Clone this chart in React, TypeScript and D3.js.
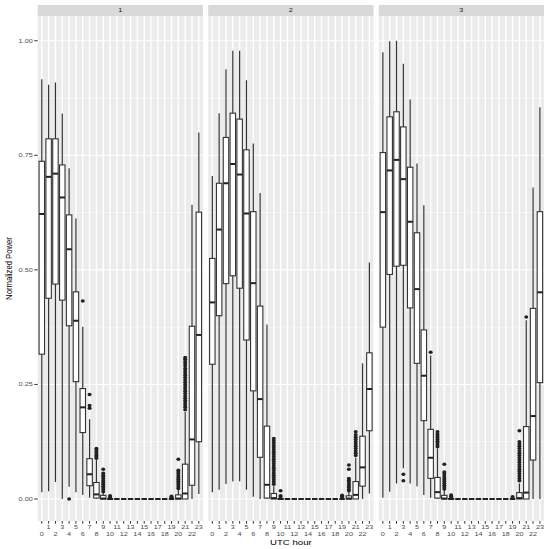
import React from 'react';
import * as d3 from 'd3';

// UTC hours on the x axis
const hours = [0, 1, 2, 3, 4, 5, 6, 7, 8, 9, 10, 11, 12, 13, 14, 15, 16, 17, 18, 19, 20, 21, 22, 23];
const facetLabels = ['1', '2', '3'];
const yTicks = [0, 0.25, 0.5, 0.75, 1];
const yMinor = [0.125, 0.375, 0.625, 0.875];

// box stats per hour: [lower whisker, q1, median, q3, upper whisker]
const stats1 = [
  [0.015, 0.316, 0.622, 0.737, 0.916],
  [0.017, 0.438, 0.703, 0.786, 0.904],
  [0.037, 0.469, 0.71, 0.786, 0.909],
  [0.0, 0.434, 0.658, 0.729, 0.841],
  [0.027, 0.378, 0.545, 0.62, 0.722],
  [0.015, 0.256, 0.389, 0.452, 0.612],
  [0.009, 0.145, 0.2, 0.241, 0.376],
  [0.003, 0.029, 0.054, 0.088, 0.174],
  [0.0, 0.002, 0.01, 0.036, 0.085],
  [0.0, 0.0, 0.001, 0.008, 0.02],
  [0, 0, 0, 0.001, 0.002],
  [0, 0, 0, 0, 0],
  [0, 0, 0, 0, 0],
  [0, 0, 0, 0, 0],
  [0, 0, 0, 0, 0],
  [0, 0, 0, 0, 0],
  [0, 0, 0, 0, 0],
  [0, 0, 0, 0, 0],
  [0, 0, 0, 0, 0],
  [0, 0, 0, 0, 0.001],
  [0.0, 0.0, 0.001, 0.009, 0.02],
  [0.0, 0.0, 0.012, 0.076, 0.19],
  [0.0, 0.03, 0.13, 0.377, 0.642],
  [0.011, 0.125, 0.358, 0.626, 0.8],
];
const outliers1 = [
  [], [], [], [], [0.0], [], [0.432], [0.198, 0.204, 0.228],
  [0.089, 0.092, 0.095, 0.099, 0.103, 0.107, 0.11],
  [0.016, 0.02, 0.024, 0.028, 0.032, 0.036, 0.04, 0.044, 0.048, 0.052, 0.056, 0.065],
  [0.003, 0.005, 0.007],
  [], [], [], [], [], [], [], [],
  [0.002, 0.004, 0.006],
  [0.023, 0.027, 0.031, 0.035, 0.039, 0.043, 0.047, 0.051, 0.055, 0.059, 0.063, 0.087],
  [0.195, 0.2, 0.205, 0.21, 0.215, 0.22, 0.225, 0.23, 0.235, 0.24, 0.245, 0.25, 0.255, 0.26, 0.265, 0.27, 0.275, 0.28, 0.285, 0.29, 0.295, 0.3, 0.305, 0.309],
  [], [],
];

const stats2 = [
  [0.015, 0.294, 0.429, 0.525, 0.705],
  [0.02, 0.4, 0.588, 0.689, 0.842],
  [0.033, 0.47, 0.689, 0.789, 0.938],
  [0.038, 0.487, 0.731, 0.842, 0.978],
  [0.039, 0.46, 0.708, 0.829, 0.978],
  [0.02, 0.347, 0.623, 0.762, 0.914],
  [0.005, 0.236, 0.471, 0.627, 0.776],
  [0.0, 0.091, 0.218, 0.421, 0.668],
  [0.0, 0.002, 0.031, 0.159, 0.381],
  [0.0, 0.0, 0.002, 0.012, 0.028],
  [0, 0, 0, 0.001, 0.003],
  [0, 0, 0, 0, 0],
  [0, 0, 0, 0, 0],
  [0, 0, 0, 0, 0],
  [0, 0, 0, 0, 0],
  [0, 0, 0, 0, 0],
  [0, 0, 0, 0, 0],
  [0, 0, 0, 0, 0],
  [0, 0, 0, 0, 0],
  [0, 0, 0, 0, 0.001],
  [0.0, 0.0, 0.001, 0.007, 0.017],
  [0.0, 0.0, 0.009, 0.038, 0.09],
  [0.0, 0.028, 0.069, 0.137, 0.296],
  [0.012, 0.149, 0.24, 0.319, 0.516],
];
const outliers2 = [
  [], [], [], [], [], [], [], [], [],
  [0.032, 0.037, 0.042, 0.047, 0.052, 0.057, 0.062, 0.067, 0.072, 0.077, 0.082, 0.087, 0.092, 0.097, 0.102, 0.107, 0.112, 0.117, 0.122, 0.127, 0.132],
  [0.005, 0.007, 0.018],
  [], [], [], [], [], [], [], [],
  [0.003, 0.006, 0.008],
  [0.018, 0.021, 0.025, 0.029, 0.033, 0.037, 0.041, 0.045, 0.065, 0.074],
  [0.095, 0.1, 0.105, 0.11, 0.115, 0.12, 0.125, 0.13, 0.135, 0.14, 0.147],
  [], [],
];

const stats3 = [
  [0.003, 0.375, 0.626, 0.756, 0.975],
  [0.016, 0.49, 0.717, 0.834, 0.999],
  [0.034, 0.508, 0.74, 0.845, 1.0],
  [0.067, 0.51, 0.698, 0.812, 0.95],
  [0.034, 0.417, 0.605, 0.724, 0.872],
  [0.028, 0.296, 0.458, 0.581, 0.732],
  [0.009, 0.171, 0.269, 0.369, 0.641],
  [0.003, 0.045, 0.09, 0.152, 0.313],
  [0.0, 0.002, 0.015, 0.047, 0.11],
  [0.0, 0.0, 0.001, 0.008, 0.02],
  [0, 0, 0, 0.001, 0.002],
  [0, 0, 0, 0, 0],
  [0, 0, 0, 0, 0],
  [0, 0, 0, 0, 0],
  [0, 0, 0, 0, 0],
  [0, 0, 0, 0, 0],
  [0, 0, 0, 0, 0],
  [0, 0, 0, 0, 0],
  [0, 0, 0, 0, 0],
  [0, 0, 0, 0, 0.001],
  [0.0, 0.0, 0.002, 0.014, 0.034],
  [0.0, 0.0, 0.014, 0.158, 0.39],
  [0.0, 0.085, 0.181, 0.416, 0.68],
  [0.0, 0.254, 0.451, 0.627, 0.855],
];
const outliers3 = [
  [], [], [], [0.04, 0.054], [], [], [], [0.32],
  [0.114, 0.118, 0.122, 0.126, 0.13, 0.134, 0.138, 0.142, 0.147],
  [0.022, 0.026, 0.03, 0.034, 0.038, 0.042, 0.046, 0.05, 0.055, 0.059, 0.076],
  [0.003, 0.006, 0.009],
  [], [], [], [], [], [], [], [],
  [0.002, 0.005],
  [0.04, 0.045, 0.05, 0.055, 0.06, 0.065, 0.07, 0.075, 0.08, 0.085, 0.09, 0.095, 0.1, 0.105, 0.11, 0.115, 0.12, 0.125, 0.149],
  [0.397],
  [], [],
];

const allStats = [stats1, stats2, stats3];
const allOutliers = [outliers1, outliers2, outliers3];

const W = 550;
const H = 549;
const plotLeft = 37.7;
const plotRight = 544;
const gap = 5.3;
const stripTop = 5;
const panelTop = 16;
const panelBottom = 521;
const panelW = (plotRight - plotLeft - 2 * gap) / 3;
const SX = 1.25; // the picture is a bit stretched sideways
const font = '"Liberation Sans", Arial, sans-serif';
const axisSize = 5.8;
const titleSize = 7.7;

const T = ({ x, y, size, anchor = 'middle', fill = '#4D4D4D', rotate = 0, children }: any) => (
  <text
    transform={`translate(${x},${y}) scale(${SX},1)${rotate ? ` rotate(${rotate})` : ''}`}
    fontSize={size}
    fontFamily={font}
    textAnchor={anchor}
    fill={fill}
  >
    {children}
  </text>
);

const App = () => {
  const y = d3.scaleLinear().domain([-0.048, 1.054]).range([panelBottom, panelTop]);
  const x = d3.scalePoint<number>().domain(hours).range([0, panelW]).padding(0.6);
  const boxW = x.step() * 0.8;

  return (
    <svg width={W} height={H} style={{ position: 'absolute', left: 0, top: 0, background: '#fff' }}>
      {facetLabels.map((lab, p) => {
        const left = plotLeft + p * (panelW + gap);
        const stats = allStats[p];
        const outs = allOutliers[p];
        return (
          <g key={lab} transform={`translate(${left},0)`}>
            <rect x={0} y={stripTop} width={panelW} height={panelTop - stripTop} fill="#D9D9D9" />
            <T x={panelW / 2} y={12.4} size={axisSize} fill="#1A1A1A">{lab}</T>
            <rect x={0} y={panelTop} width={panelW} height={panelBottom - panelTop} fill="#EBEBEB" />
            {yMinor.map((v) => (
              <line key={'mn' + v} x1={0} x2={panelW} y1={y(v)} y2={y(v)} stroke="#fff" strokeWidth={0.5} />
            ))}
            {yTicks.map((v) => (
              <line key={'mj' + v} x1={0} x2={panelW} y1={y(v)} y2={y(v)} stroke="#fff" strokeWidth={1.1} />
            ))}
            {hours.map((h) => (
              <line key={'vx' + h} x1={x(h)} x2={x(h)} y1={panelTop} y2={panelBottom} stroke="#fff" strokeWidth={1.4} />
            ))}
            {hours.map((h, i) => {
              const [lo, q1, med, q3, hi] = stats[i];
              const cx = x(h)!;
              return (
                <g key={'b' + h}>
                  <line x1={cx} x2={cx} y1={y(lo)} y2={y(hi)} stroke="#333" strokeWidth={1.2} />
                  <rect
                    x={cx - boxW / 2}
                    y={y(q3)}
                    width={boxW}
                    height={Math.max(0, y(q1) - y(q3))}
                    fill="#fff"
                    stroke="#333"
                    strokeWidth={1.1}
                  />
                  <line x1={cx - boxW / 2} x2={cx + boxW / 2} y1={y(med)} y2={y(med)} stroke="#222" strokeWidth={2} />
                  {outs[i].map((o, k) => (
                    <ellipse key={k} cx={cx} cy={y(o)} rx={2} ry={1.75} fill="#222" />
                  ))}
                </g>
              );
            })}
            {hours.map((h) => (
              <g key={'xt' + h}>
                <line x1={x(h)} x2={x(h)} y1={panelBottom} y2={panelBottom + 2.7} stroke="#333" strokeWidth={1} />
                <T x={x(h)} y={h % 2 === 1 ? 529.3 : 535.7} size={axisSize}>{h}</T>
              </g>
            ))}
          </g>
        );
      })}
      {yTicks.map((v) => (
        <g key={'yt' + v}>
          <line x1={plotLeft - 3.4} x2={plotLeft} y1={y(v)} y2={y(v)} stroke="#333" strokeWidth={1} />
          <T x={plotLeft - 5} y={y(v) + 2} size={axisSize} anchor="end">{d3.format('.2f')(v)}</T>
        </g>
      ))}
      <T x={(plotLeft + plotRight) / 2} y={544.5} size={titleSize} fill="#000">UTC hour</T>
      <T x={12.3} y={(panelTop + panelBottom) / 2} size={titleSize} fill="#000" rotate={-90}>Normalized Power</T>
    </svg>
  );
};

export default App;
